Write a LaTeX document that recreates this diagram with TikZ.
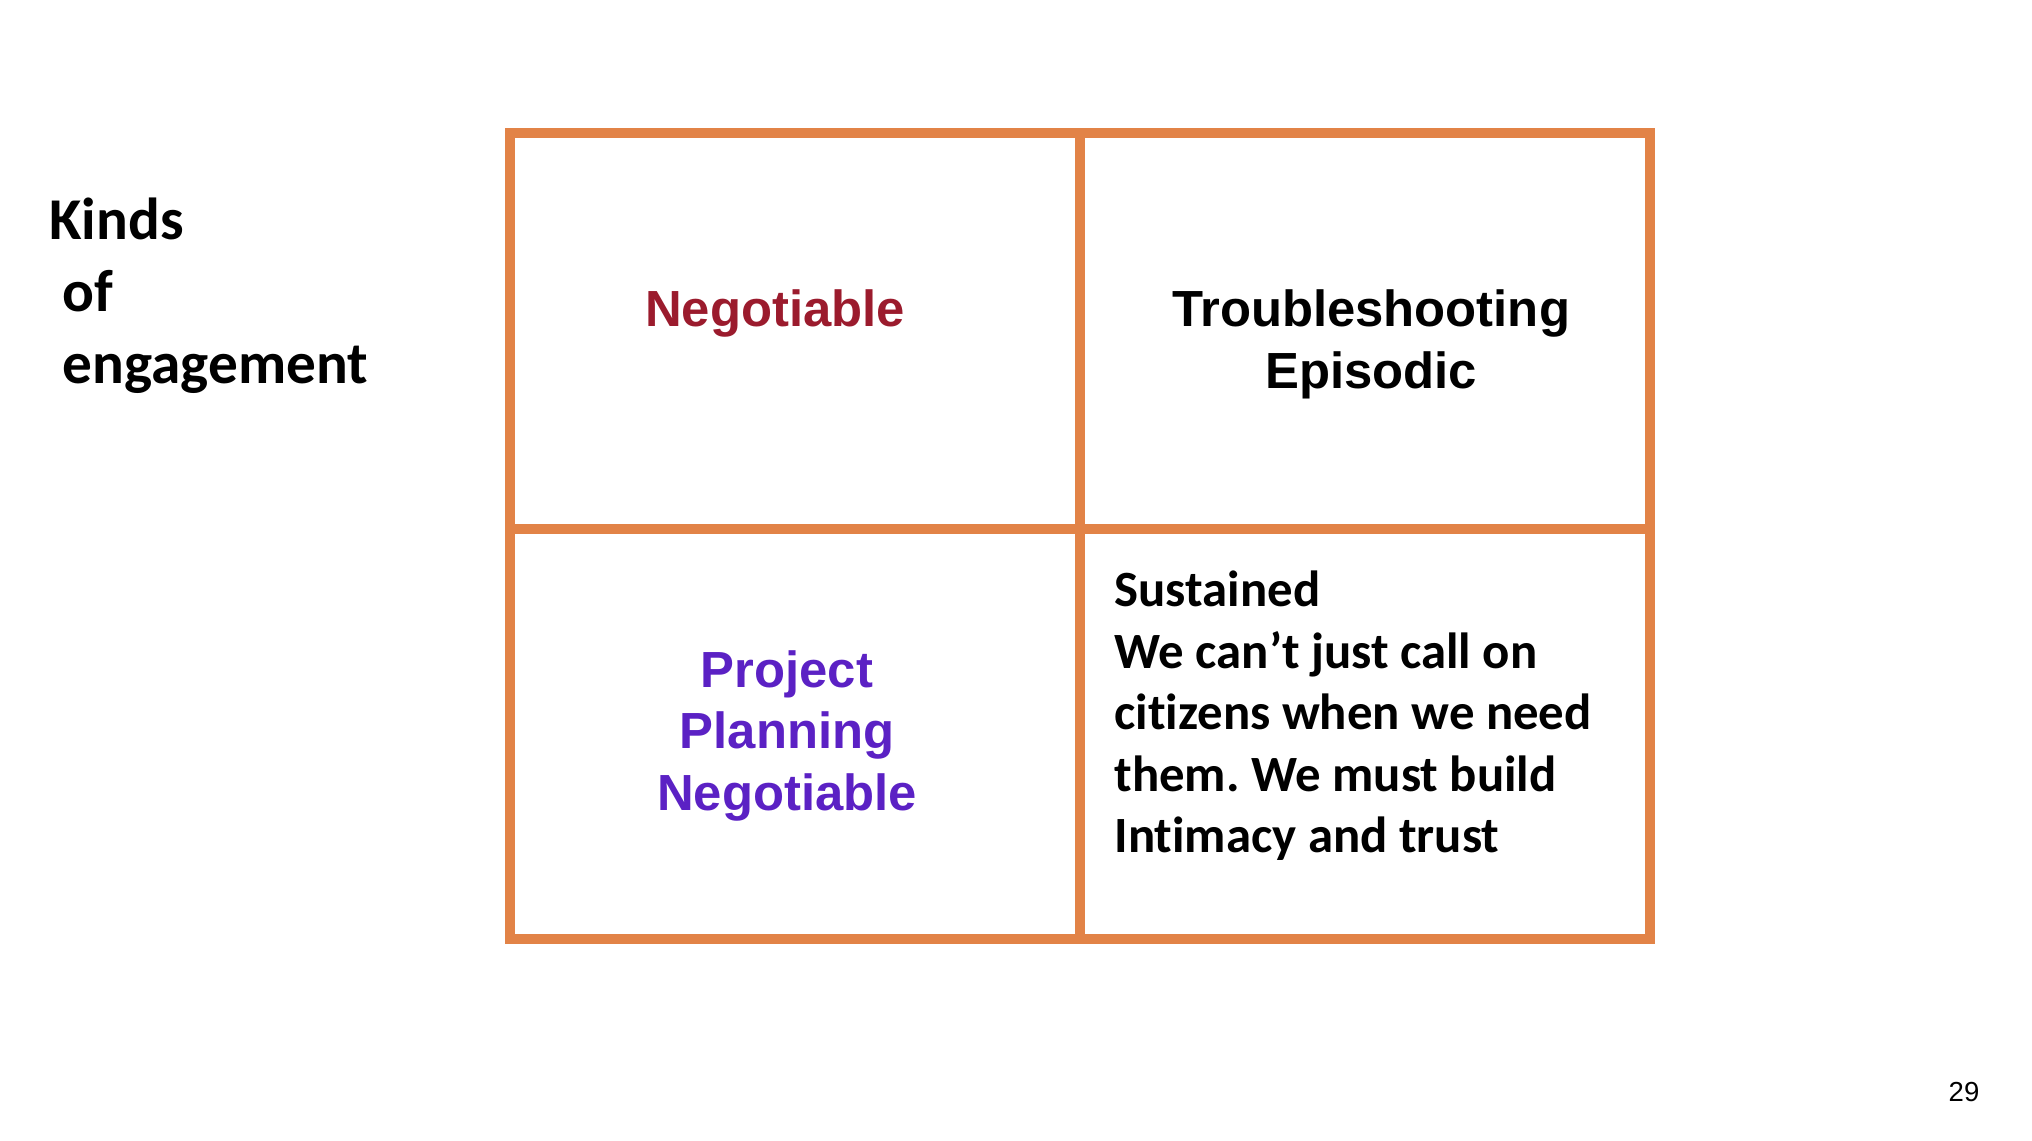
\documentclass[tikz,border=0pt]{standalone}
\usepackage{fontspec}
\usepackage{tikz}
\usetikzlibrary{positioning}
\newfontfamily\calibri[Ligatures=NoCommon]{Carlito}
\newfontfamily\arial{Liberation Sans}
\definecolor{gridorange}{RGB}{226,131,71}
\definecolor{negred}{RGB}{155,27,45}
\definecolor{projpurple}{RGB}{91,33,196}
\frenchspacing

\begin{document}
\begin{tikzpicture}[x=0.4724pt, y=-0.4724pt,
    grid/.style={draw=gridorange, line width=4.6pt},
    txt/.style={inner sep=0pt, font=\arial\bfseries\fontsize{24}{29}\selectfont, align=center}]
    \useasboundingbox (0,0) rectangle (2032,1140);

    \coordinate (tl) at (510,132.7);
    \coordinate (br) at (1650,938.7);
    \coordinate (mt) at (1080,132.7);
    \coordinate (mb) at (1080,938.7);
    \coordinate (ml) at (505,529.3);
    \coordinate (mr) at (1645,529.3);

    \draw[grid] (tl) rectangle (br);
    \draw[grid] (mt) -- (mb);
    \draw[grid] (ml) -- (mr);

    % base anchor = baseline of the last line
    \node[inner sep=0pt, anchor=base west, align=left,
          font=\calibri\bfseries\fontsize{28}{33.8}\selectfont] (kinds) at (49,383)
          {Kinds\\\ of\\\ engagement};
    \node[txt, anchor=base, text=negred] (neg) at (775,326.7) {Negotiable};
    \node[txt, anchor=base] (trouble) at (1371,388.2) {Troubleshooting\\Episodic};
    \node[txt, anchor=base, text=projpurple] (project) at (787,810) {Project\\Planning\\Negotiable};
    \node[inner sep=0pt, anchor=base west, align=left,
          font=\calibri\bfseries\fontsize{24}{29.05}\selectfont] (sustained) at (1114,852.7)
          {Sustained\\We can’t just call on\\citizens when we need\\them. We must build\\Intimacy and trust};
    \node[inner sep=0pt, anchor=base, font=\arial\fontsize{13}{15}\selectfont] (page) at (1964,1101.7) {29};
\end{tikzpicture}
\end{document}
